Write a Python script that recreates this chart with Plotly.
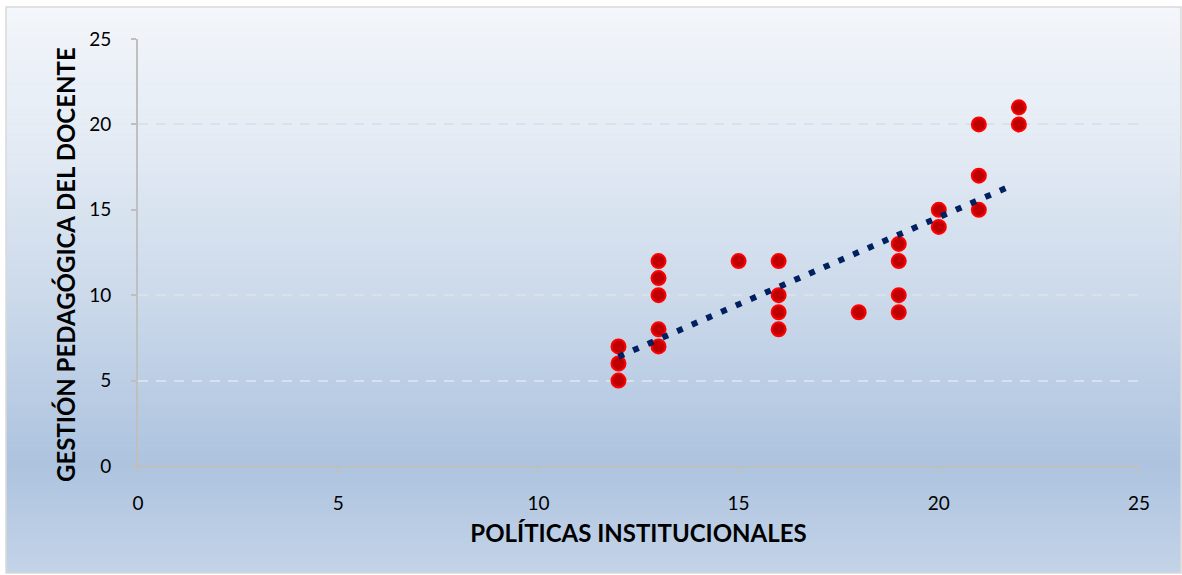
import plotly.graph_objects as go

# Data
politicas = [12, 12, 12, 13, 13, 13, 13, 13, 15, 16, 16, 16, 16, 18, 19, 19, 19, 19, 20, 20, 21, 21, 21, 22, 22]
gestion   = [5, 6, 7, 7, 8, 10, 11, 12, 12, 8, 9, 10, 12, 9, 9, 10, 12, 13, 14, 15, 15, 17, 20, 20, 21]
trend_x = [12, 21.8]
trend_y = [6.4, 16.4]
tick_vals = [0, 5, 10, 15, 20, 25]

x_title = "POLÍTICAS INSTITUCIONALES"
y_title = "GESTIÓN PEDAGÓGICA DEL DOCENTE"

W, H = 1182, 575
L, R, T, B = 138, 43, 39, 109
pw, ph = W - L - R, H - T - B

def px_to_paper_x(px):
    return (px - L) / pw

def py_to_paper_y(py):
    return (H - B - py) / ph

# gradient background (style only)
stops = [(7, (243, 246, 250)), (150, (226, 234, 244)), (300, (203, 217, 234)),
         (465, (173, 195, 223)), (573, (196, 212, 232))]

def color_at(py):
    for (a, ca), (b, cb) in zip(stops[:-1], stops[1:]):
        if a <= py <= b:
            t = (py - a) / (b - a)
            return "rgb(%d,%d,%d)" % tuple(round(ca[i] + (cb[i] - ca[i]) * t) for i in range(3))
    return "rgb(%d,%d,%d)" % stops[-1][1]

shapes = []
top, bot = 7, 573
n = 113
step = (bot - top) / n
for i in range(n):
    y0 = top + i * step
    y1 = y0 + step + 0.6
    shapes.append(dict(type="rect", xref="paper", yref="paper",
                       x0=px_to_paper_x(6), x1=px_to_paper_x(1181),
                       y0=py_to_paper_y(min(y1, bot)), y1=py_to_paper_y(y0),
                       fillcolor=color_at(y0 + step / 2), line=dict(width=0), layer="below"))
shapes.append(dict(type="rect", xref="paper", yref="paper",
                   x0=px_to_paper_x(6), x1=px_to_paper_x(1181),
                   y0=py_to_paper_y(bot), y1=py_to_paper_y(top),
                   fillcolor="rgba(0,0,0,0)", line=dict(width=1.5, color="#d9d9d9"), layer="below"))

fig = go.Figure()
fig.add_trace(go.Scatter(
    x=politicas, y=gestion, mode="markers",
    marker=dict(size=14, color="#c00000", line=dict(color="#ff0000", width=2)),
    showlegend=False, hoverinfo="x+y"))
fig.add_trace(go.Scatter(
    x=trend_x, y=trend_y, mode="lines",
    line=dict(color="#002060", width=6, dash="6px,10px"),
    showlegend=False, hoverinfo="skip"))

axis_font = dict(family="Lato, Carlito, Calibri, sans-serif", size=19, color="#000000")
title_font = dict(family="Lato, Carlito, Calibri, sans-serif", size=24, color="#000000")

fig.update_layout(
    width=W, height=H,
    margin=dict(l=L, r=R, t=T, b=B, pad=0),
    paper_bgcolor="white", plot_bgcolor="rgba(0,0,0,0)",
    shapes=shapes,
    xaxis=dict(range=[0, 25], tickvals=tick_vals, showgrid=False, zeroline=False,
               showline=True, linecolor="#bfbfbf", linewidth=2,
               ticks="outside", ticklen=5, tickcolor="#bfbfbf", tickwidth=2,
               tickfont=axis_font, ticklabelstandoff=14,
               title=dict(text="<b>%s</b>" % x_title, font=title_font, standoff=12)),
    yaxis=dict(range=[0, 25], tickvals=tick_vals, showgrid=True, gridcolor="#d8e2ef",
               gridwidth=2, griddash="10px,8px", zeroline=False,
               showline=True, linecolor="#bfbfbf", linewidth=2,
               ticks="outside", ticklen=5, tickcolor="#bfbfbf", tickwidth=2,
               tickfont=axis_font, ticklabelstandoff=16),
    annotations=[dict(text="<b>%s</b>" % y_title, textangle=-90, showarrow=False,
                      xref="paper", yref="paper",
                      x=px_to_paper_x(65), y=py_to_paper_y(265),
                      xanchor="center", yanchor="middle", font=title_font)],
)

fig.write_html("out.html", config={"displayModeBar": False},
               post_script="document.body.style.margin='0';document.body.style.padding='0';")
